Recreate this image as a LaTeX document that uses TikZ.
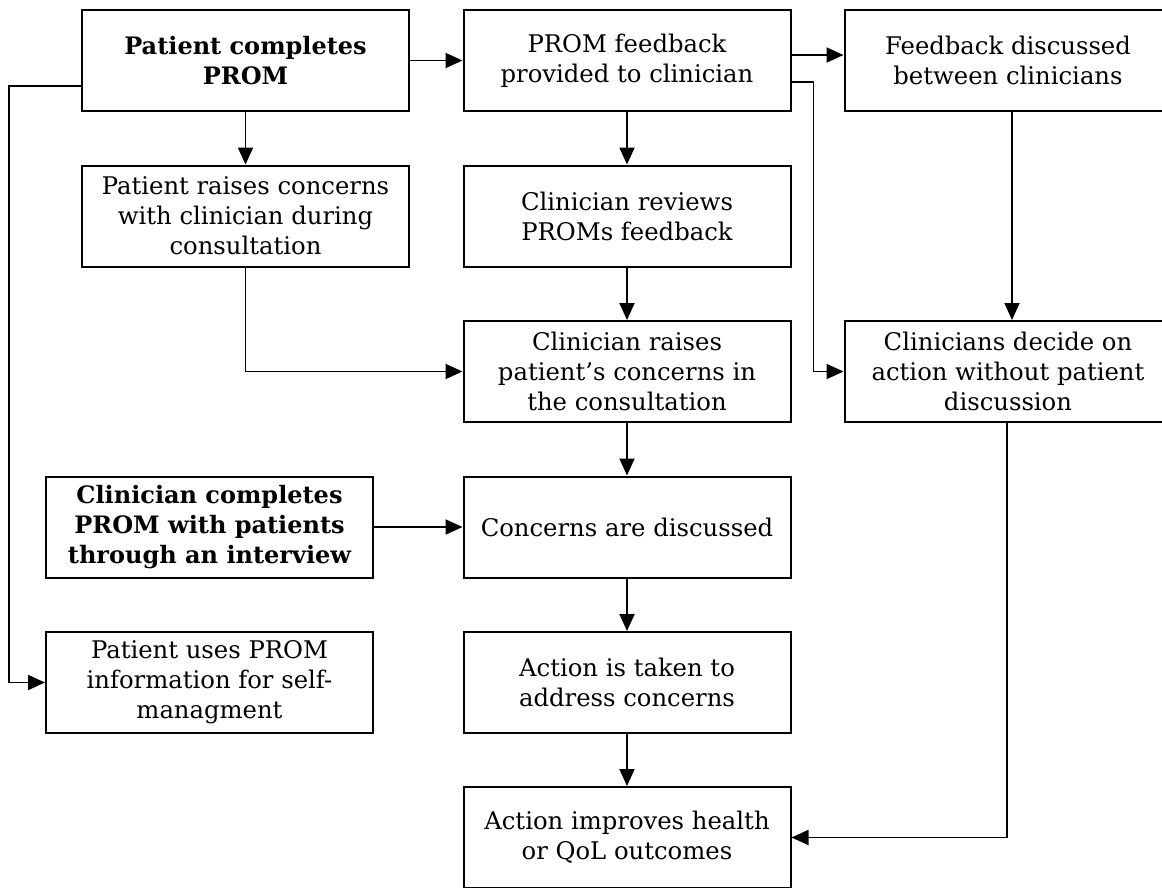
\documentclass[tikz,border=0pt]{standalone}
\usepackage{fontspec}
\setmainfont{DejaVu Serif}
\usetikzlibrary{arrows.meta}
\begin{document}
\begin{tikzpicture}[x=1pt,y=-1pt,
  box/.style={draw, line width=2pt, rectangle, minimum width=327pt,
    minimum height=101pt, inner sep=0pt, align=center,
    font=\fontsize{24.3}{30}\selectfont},
  boldbox/.style={box, font=\fontsize{24}{30}\selectfont\bfseries},
  link/.style={line width=1.9pt, -{Triangle[length=17pt,width=15pt]}},
  plain/.style={line width=1.9pt}]
% page frame (the chart runs off the right and bottom edges)
\useasboundingbox (0,0) rectangle (1162,887);
\clip (0,0) rectangle (1162,887);
\fill[white] (0,0) rectangle (1162,887);

% first column
\node[boldbox] (pc) at (245.5,60.5) {Patient completes\\PROM};
\node[box] (pr) at (245.5,216) {Patient raises concerns\\with clinician during\\consultation};
\node[boldbox] (cc) at (209.5,527) {Clinician completes\\PROM with patients\\through an interview};
\node[box] (pu) at (209.5,682.5) {Patient uses PROM\\information for self-\\managment};

% second column
\node[box] (pf) at (627,60.5) {PROM feedback\\provided to clinician};
\node[box] (rv) at (627,216) {Clinician reviews\\PROMs feedback};
\node[box] (cr) at (627,371.5) {Clinician raises\\patient’s concerns in\\the consultation};
\node[box] (cn) at (627,527) {Concerns are discussed};
\node[box] (at) at (627,682.5) {Action is taken to\\address concerns};
\node[box] (ai) at (627,837.5) {Action improves health\\or QoL outcomes};

% third column
\node[box] (fd) at (1008,60.5) {Feedback discussed\\between clinicians};
\node[box] (cd) at (1008,371.5) {Clinicians decide on\\action without patient\\discussion};

% connectors
\draw[link] (pc.east) -- (pf.west);
\draw[link] ([yshift=5.5pt]pf.east) -- ([yshift=5.5pt]fd.west);
\draw[link] ([yshift=-21.5pt]pf.east) -- ++(22,0) |- (cd.west);
\draw[link] (pc.south) -- (pr.north);
\draw[link] (pf.south) -- (rv.north);
\draw[link] (rv.south) -- (cr.north);
\draw[link] (pr.south) |- (cr.west);
\draw[link] ([xshift=4pt]fd.south) -- ([xshift=4pt]cd.north);
\draw[link] (cr.south) -- (cn.north);
\draw[link] (cc.east) -- (cn.west);
\draw[link] (cn.south) -- (at.north);
\draw[link] (at.south) -- (ai.north);
\draw[link] ([xshift=-1pt]cd.south) |- (ai.east);
\draw[link] ([yshift=-25.5pt]pc.west) -- ++(-72,0) |- (pu.west);
\end{tikzpicture}
\end{document}
